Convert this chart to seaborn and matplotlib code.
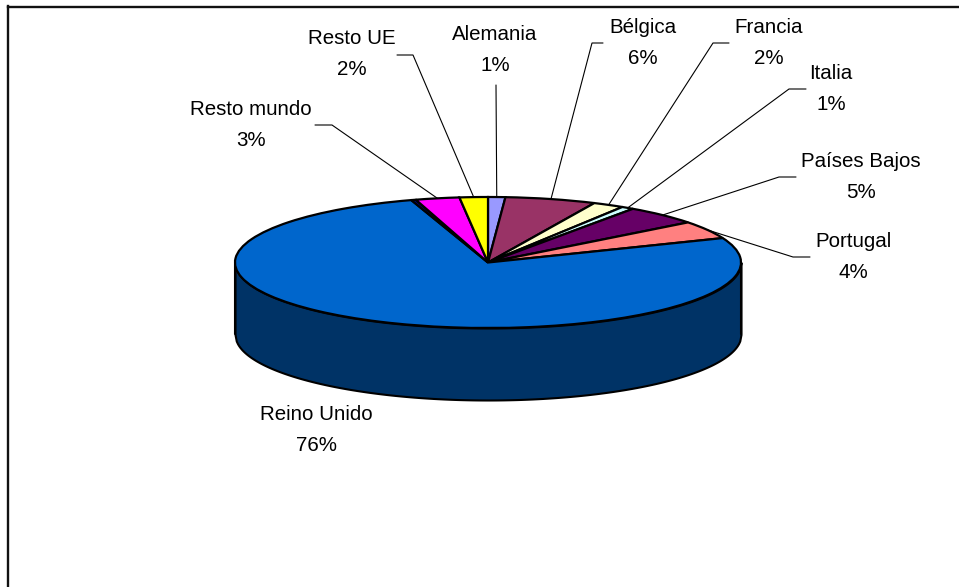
import numpy as np
import matplotlib
matplotlib.use('Agg')
import matplotlib.pyplot as plt
import seaborn as sns

# Data (clockwise from 12 o'clock)
paises = ['Alemania', 'Bélgica', 'Francia', 'Italia', 'Países Bajos', 'Portugal',
          'Reino Unido', '', 'Resto mundo', 'Resto UE']
valores = [1.1, 5.8, 2.0, 0.8, 4.8, 4.4, 76.1, 0.3, 2.8, 1.8]
colores = ['#9999FF', '#993366', '#FFFFCC', '#CCFFFF', '#660066', '#FF8080',
           '#0066CC', '#000080', '#FF00FF', '#FFFF00']
color_lateral = '#003366'

# Layout in image pixels
W, H = 959, 587
cx, cy, rx, ry = 488, 262.5, 253, 65.5
fondo = 72 / ry
pos_texto = {'Alemania': (495, 50), 'Bélgica': (643, 43), 'Francia': (769, 43), 'Italia': (831, 89),
             'Países Bajos': (861, 177), 'Portugal': (853, 257), 'Reino Unido': (316, 430),
             'Resto mundo': (251, 125), 'Resto UE': (352, 54)}
# leader line: stub end and elbow
guias = {'Alemania': [(496, 85), (496, 85)], 'Bélgica': [(603, 43), (592, 43)], 'Francia': [(729, 43), (713, 43)],
         'Italia': [(806, 89), (789, 89)], 'Países Bajos': [(796, 177), (779, 177)],
         'Portugal': [(810, 257), (793, 257)], 'Resto mundo': [(315, 125), (332, 125)],
         'Resto UE': [(397, 55), (413, 55)]}


def px(x, y):
    return (x - cx) / rx, (cy - y) / ry


sns.set_theme(style='white')
plt.rcParams['font.family'] = ['Liberation Sans', 'DejaVu Sans']

fig = plt.figure(figsize=(W / 100, H / 100), dpi=100)
ax = fig.add_axes([7.5 / W, 0, 1 - 7.5 / W, (H - 6.5) / H])

# Side of the pie first
x = np.linspace(-1, 1, 400)
arco = -np.sqrt(1 - x ** 2)
ax.fill_between(x, arco, arco - fondo, color=color_lateral, ec='black', lw=1.5, zorder=0)
ax.plot([-1, -1], [0, -fondo], color='black', lw=1.5, zorder=0)
ax.plot([1, 1], [0, -fondo], color='black', lw=1.5, zorder=0)

wedges, _ = ax.pie(valores, colors=colores, startangle=90, counterclock=False, radius=1,
                   wedgeprops={'edgecolor': 'black', 'linewidth': 1.6, 'zorder': 1})

# pie forces an equal aspect, undo it so the circle becomes the ellipse
ax.set_aspect('auto')
ax.set_xlim((7.5 - cx) / rx, (W - cx) / rx)
ax.set_ylim((cy - H) / ry, (cy - 6.5) / ry)
ax.set_frame_on(True)
sns.despine(ax=ax, top=False, left=False, right=True, bottom=True)
for lado in ['top', 'left']:
    ax.spines[lado].set_linewidth(1.7)
    ax.spines[lado].set_color('#111111')

for w, nombre, v in zip(wedges, paises, valores):
    if nombre == '':
        continue
    ax.text(*px(*pos_texto[nombre]), f'{nombre}\n{v:.0f}%', ha='center', va='center',
            ma='center', fontsize=14.8, color='black', linespacing=1.75)
    if nombre in guias:
        medio = np.deg2rad((w.theta1 + w.theta2) / 2)
        puntos = [px(*p) for p in guias[nombre]] + [(np.cos(medio), np.sin(medio))]
        ax.plot(*zip(*puntos), color='black', lw=0.8, zorder=2, solid_joinstyle='miter')

fig.savefig('out.png', dpi=100)
